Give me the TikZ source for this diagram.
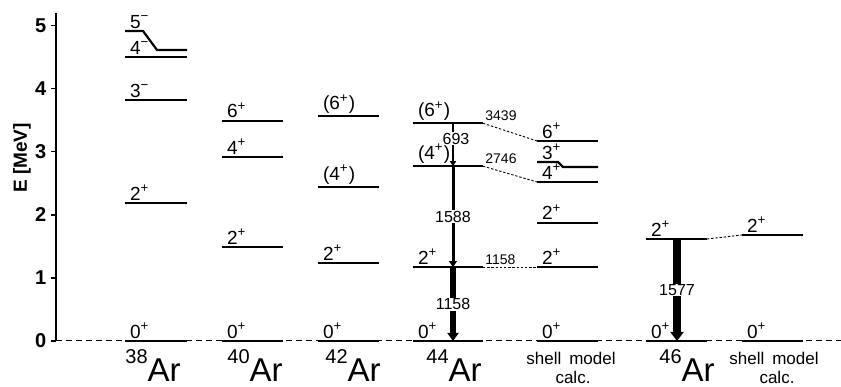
\documentclass[tikz,border=0pt]{standalone}
\usepackage{fontspec}
\setmainfont{Liberation Sans}
\usetikzlibrary{arrows.meta}

\begin{document}
\begin{tikzpicture}[
  x=0.5pt, y=31.55pt,
  lvl/.style={line width=1.1pt},
  axs/.style={line width=0.8pt},
  gnd/.style={line width=0.5pt, dash pattern=on 3pt off 2pt},
  cor/.style={line width=0.45pt, dash pattern=on 1.2pt off 0.9pt},
  spn/.style={anchor=south west, inner sep=0.8pt, xshift=1.2pt,
              font=\fontsize{9.5}{10}\selectfont},
  eng/.style={anchor=south west, inner sep=1pt,
              font=\fontsize{7}{8}\selectfont},
  gam/.style={inner sep=0.4pt, fill=white,
              font=\fontsize{8}{9}\selectfont},
  gth/.style={line width=0.7pt, -{Triangle[length=2.5pt, width=3pt]}},
  gmd/.style={line width=1.5pt, -{Triangle[length=3pt, width=3.8pt]}},
  gbg/.style={line width=3.2pt, -{Triangle[length=4pt, width=5.5pt]}},
  ghg/.style={line width=4.2pt, -{Triangle[length=4.5pt, width=6.5pt]}},
  tck/.style={anchor=east, inner sep=2pt, font=\bfseries\fontsize{10}{11}\selectfont},
  axl/.style={font=\bfseries\fontsize{9.5}{10}\selectfont, rotate=90},
  iso/.style={anchor=base west, inner sep=0pt, font=\fontsize{16.5}{18}\selectfont},
  smc/.style={anchor=base, inner sep=0pt, font=\fontsize{8.5}{9}\selectfont}]
  \useasboundingbox (0,-0.729) rectangle (841,5.404);
  \draw[gnd] (56,0) coordinate (ax0) -- (841,0) coordinate (gnd);
  \draw[axs] (ax0) -- (56,5.2) coordinate (axt);
  \foreach \k in {0,...,5}
    \draw[axs] (56,\k) -- ++(-5,0) node[tck] (k\k) {\k};
  \node[axl] (elab) at (22,2.90) {E [MeV]};

  \coordinate (t44d) at (453,3.45);
  \coordinate (t44c) at (453,2.77);
  \coordinate (t44b) at (453,1.17);
  \coordinate (t44a) at (453,0.00);
  \coordinate (t46b) at (677,1.616);
  \coordinate (t46a) at (677,0.00);
  \draw[gth] (t44d) -- (t44c) node[gam, pos=0.36, xshift=1.5pt] (g693) {693};
  \draw[gmd] (t44c) -- (t44b) node[gam, midway] (g1588) {1588};
  \draw[gbg] (t44b) -- (t44a) node[gam, midway] (g1158) {1158};
  \draw[ghg] (t46b) -- (t46a) node[gam, midway] (g1577) {1577};

  \draw[lvl] (125,0.00) node[spn] (s38a) {0\textsuperscript{+}} -- (187,0.00);
  \draw[lvl] (125,2.19) node[spn] (s38b) {2\textsuperscript{+}} -- (187,2.19);
  \draw[lvl] (125,3.82) node[spn] (s38c) {3\textsuperscript{−}} -- (187,3.82);
  \draw[lvl] (125,4.50) node[spn] (s38d) {4\textsuperscript{−}} -- (187,4.50);
  \draw[lvl] (125,4.913) node[spn] (s38e) {5\textsuperscript{−}} -- (143,4.913)
    -- (157,4.612) -- (187,4.612);
  \node[iso] (i38) at (125,-0.64) {\raisebox{9pt}{\fontsize{10}{11}\selectfont 38}Ar};

  \draw[lvl] (222,0.00) node[spn] (s40a) {0\textsuperscript{+}} -- (283,0.00);
  \draw[lvl] (222,1.49) node[spn] (s40b) {2\textsuperscript{+}} -- (283,1.49);
  \draw[lvl] (222,2.92) node[spn] (s40c) {4\textsuperscript{+}} -- (283,2.92);
  \draw[lvl] (222,3.49) node[spn] (s40d) {6\textsuperscript{+}} -- (283,3.49);
  \node[iso] (i40) at (227,-0.64) {\raisebox{9pt}{\fontsize{10}{11}\selectfont 40}Ar};

  \draw[lvl] (318,0.00) node[spn] (s42a) {0\textsuperscript{+}} -- (379,0.00);
  \draw[lvl] (318,1.24) node[spn] (s42b) {2\textsuperscript{+}} -- (379,1.24);
  \draw[lvl] (318,2.44) node[spn] (s42c) {(4\textsuperscript{+})} -- (379,2.44);
  \draw[lvl] (318,3.56) node[spn] (s42d) {(6\textsuperscript{+})} -- (379,3.56);
  \node[iso] (i42) at (325,-0.64) {\raisebox{9pt}{\fontsize{10}{11}\selectfont 42}Ar};

  \draw[lvl] (413,0.00) node[spn] (s44a) {0\textsuperscript{+}} -- (483,0.00);
  \draw[lvl] (413,1.17) node[spn] (s44b) {2\textsuperscript{+}} -- (483,1.17) coordinate (r44b);
  \draw[lvl] (413,2.77) node[spn] (s44c) {(4\textsuperscript{+})} -- (483,2.77) coordinate (r44c);
  \draw[lvl] (413,3.45) node[spn] (s44d) {(6\textsuperscript{+})} -- (483,3.45) coordinate (r44d);
  \node[eng] (e44b) at (r44b) {1158};
  \node[eng] (e44c) at (r44c) {2746};
  \node[eng] (e44d) at (r44d) {3439};
  \node[iso] (i44) at (426,-0.64) {\raisebox{9pt}{\fontsize{10}{11}\selectfont 44}Ar};

  \draw[lvl] (537,0.00) node[spn] (m44a) {0\textsuperscript{+}} -- (598,0.00);
  \draw[lvl] (537,1.17) node[spn] (m44b) {2\textsuperscript{+}} coordinate (l44b) -- (598,1.17);
  \draw[lvl] (537,1.875) node[spn] (m44c) {2\textsuperscript{+}} -- (598,1.875);
  \draw[lvl] (537,2.52) node[spn] (m44d) {4\textsuperscript{+}} coordinate (l44d) -- (598,2.52);
  \draw[lvl] (537,2.837) node[spn] (m44e) {3\textsuperscript{+}} -- (558,2.837)
    -- (563,2.757) -- (598,2.757);
  \draw[lvl] (537,3.17) node[spn] (m44f) {6\textsuperscript{+}} coordinate (l44f) -- (598,3.17);
  \node[smc] (c44a) at (571,-0.38) {shell\hspace{4pt}model};
  \node[smc] (c44b) at (573,-0.666) {calc.};

  \draw[lvl] (646,0.00) node[spn] (s46a) {0\textsuperscript{+}} -- (707,0.00);
  \draw[lvl] (646,1.616) node[spn] (s46b) {2\textsuperscript{+}} -- (707,1.616) coordinate (r46b);
  \node[iso] (i46) at (659,-0.64) {\raisebox{9pt}{\fontsize{10}{11}\selectfont 46}Ar};

  \draw[lvl] (742,0.00) node[spn] (m46a) {0\textsuperscript{+}} -- (803,0.00);
  \draw[lvl] (742,1.68) node[spn] (m46b) {2\textsuperscript{+}} coordinate (l46b) -- (803,1.68);
  \node[smc] (c46a) at (774,-0.38) {shell\hspace{4pt}model};
  \node[smc] (c46b) at (777,-0.666) {calc.};

  \draw[cor] (r44d) -- (l44f);
  \draw[cor] (r44c) -- (l44d);
  \draw[cor] (r44b) -- (l44b);
  \draw[cor] (r46b) -- (l46b);
\end{tikzpicture}
\end{document}
